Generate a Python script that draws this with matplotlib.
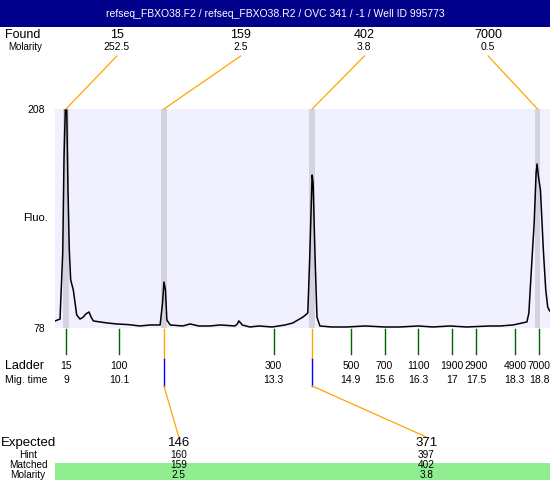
import matplotlib
matplotlib.use("Agg")
import matplotlib.pyplot as plt
from matplotlib.patches import Rectangle

plt.rcParams['font.family'] = ['Liberation Sans', 'DejaVu Sans']

title = "refseq_FBXO38.F2 / refseq_FBXO38.R2 / OVC 341 / -1 / Well ID 995773"

# electropherogram trace (migration time s, fluorescence)
trace_time = [8.772, 8.876, 8.932, 8.959, 8.986, 9.015, 9.041, 9.068, 9.097, 9.151,
              9.222, 9.290, 9.358, 9.41, 9.476, 9.52, 9.566, 9.704, 9.85, 10.05,
              10.3, 10.53, 10.75, 10.95, 11.00, 11.03, 11.06, 11.09, 11.16, 11.42,
              11.57, 11.75, 11.98, 12.2, 12.50, 12.55, 12.58, 12.62, 12.65, 12.81,
              13.0, 13.27, 13.54, 13.70, 13.91, 14.01, 14.05, 14.09, 14.10, 14.12,
              14.16, 14.20, 14.26, 14.5, 14.82, 15.2, 15.6, 15.92, 16.3, 16.6,
              16.96, 17.3, 17.78, 18.0, 18.26, 18.55, 18.59, 18.65, 18.70, 18.74,
              18.76, 18.79, 18.83, 18.89, 18.94, 18.98, 19.01, 19.028]
trace_fluo = [82.2, 83.3, 122.5, 179.5, 208.0, 207.4, 159.9, 124.3, 106.5, 100.6,
              85.7, 83.3, 84.5, 86.3, 87.5, 84.5, 82.2, 81.6, 81.0, 80.4,
              80.0, 79.2, 79.8, 79.8, 92.8, 105.3, 100.6, 82.7, 79.8, 79.2,
              80.4, 79.2, 79.2, 79.8, 79.2, 80.4, 82.2, 81.0, 79.8, 78.6,
              79.2, 78.6, 79.8, 81.0, 84.5, 86.9, 120.1, 159.9, 168.8, 164.1,
              120.1, 84.5, 79.2, 78.6, 78.6, 79.2, 78.6, 78.6, 79.2, 78.6,
              79.2, 78.6, 79.2, 79.2, 79.8, 81.6, 86.9, 116.6, 140.3, 170.0,
              175.4, 167.6, 159.9, 124.3, 100.6, 90.5, 88.7, 88.0]

found_sizes = ["15", "159", "402", "7000"]
found_molarity = ["252.5", "2.5", "3.8", "0.5"]
found_times = [9.0, 11.03, 14.1, 18.77]

ladder_sizes = ["15", "100", "300", "500", "700", "1100", "1900", "2900", "4900", "7000"]
ladder_times = [9, 10.1, 13.3, 14.9, 15.6, 16.3, 17, 17.5, 18.3, 18.8]
ladder_labels = ["9", "10.1", "13.3", "14.9", "15.6", "16.3", "17", "17.5", "18.3", "18.8"]

expected = ["146", "371"]
hint = ["160", "397"]
matched = ["159", "402"]
matched_molarity = ["2.5", "3.8"]
matched_times = [11.03, 14.1]

W, H = 550, 480
fig = plt.figure(figsize=(5.5, 4.8), dpi=100)

# main trace panel (pixel box 55..550 x 109..328)
ax = fig.add_axes([55 / W, (H - 328) / H, 495 / W, 219 / H])
ax.set_facecolor('#F0F0FF')
ax.set_xlim(8.772, 19.028)
ax.set_ylim(78, 208)
for s in ax.spines.values():
    s.set_visible(False)
ax.set_xticks([])
ax.set_yticks([78, 208])
ax.set_yticklabels(["78", "208"], fontsize=7.5)
ax.tick_params(axis='y', length=0, pad=7)
for t in found_times:
    ax.axvspan(t - 0.055, t + 0.055, color='#D3D3E0', lw=0)
ax.plot(trace_time, trace_fluo, color='black', lw=1.1)

# overlay in pixel coords for the annotation rows
ov = fig.add_axes([0, 0, 1, 1], zorder=5)
ov.set_xlim(0, W)
ov.set_ylim(H, 0)
ov.axis('off')
ov.patch.set_alpha(0)

def tpx(t):
    d = ax.transData.transform((t, 78))
    return ov.transData.inverted().transform(d)[0]

ov.add_patch(Rectangle((0, 0), W, 27, color='#00008B', lw=0))
ov.text(W / 2, 14, title, color='white', fontsize=7.5, ha='center', va='center')

ov.text(5, 35, "Found", fontsize=9, ha='left', va='center')
ov.text(8, 47, "Molarity", fontsize=7, ha='left', va='center')
col = 495 / len(found_sizes)
for i, (sz, mol, t) in enumerate(zip(found_sizes, found_molarity, found_times)):
    cx = 55 + col * (i + 0.5)
    ov.text(cx, 35, sz, fontsize=9, ha='center', va='center')
    ov.text(cx, 47, mol, fontsize=7.5, ha='center', va='center')
    ov.plot([cx, tpx(t)], [56, 109], color='#FFA500', lw=0.9)

ov.text(35, 218, "Fluo.", fontsize=8, ha='center', va='center')

ov.text(5, 366, "Ladder", fontsize=9, ha='left', va='center')
ov.text(5, 380, "Mig. time", fontsize=7.5, ha='left', va='center')
for sz, t, lab in zip(ladder_sizes, ladder_times, ladder_labels):
    x = tpx(t)
    ov.plot([x, x], [329, 354], color='#006400', lw=1)
    ov.text(x, 366, sz, fontsize=7.5, ha='center', va='center')
    ov.text(x, 380, lab, fontsize=7.5, ha='center', va='center')

# expected / matched table
ov.add_patch(Rectangle((55, 463), 495, 17, color='#90EE90', lw=0))
ov.text(28, 443, "Expected", fontsize=9.5, ha='center', va='center')
ov.text(28, 455, "Hint", fontsize=7.2, ha='center', va='center')
ov.text(28, 465.5, "Matched", fontsize=7.2, ha='center', va='center')
ov.text(28, 474.5, "Molarity", fontsize=7.2, ha='center', va='center')
col2 = 495 / len(expected)
for i in range(len(expected)):
    cx = 55 + col2 * (i + 0.5)
    x = tpx(matched_times[i])
    ov.plot([x, x], [329, 359], color='#FFA500', lw=1)
    ov.plot([x, x], [359, 386], color='#0000FF', lw=1)
    ov.plot([x, cx], [386, 437], color='#FFA500', lw=0.9)
    ov.text(cx, 443, expected[i], fontsize=9.5, ha='center', va='center')
    ov.text(cx, 455, hint[i], fontsize=7.2, ha='center', va='center')
    ov.text(cx, 465.5, matched[i], fontsize=7.2, ha='center', va='center')
    ov.text(cx, 474.5, matched_molarity[i], fontsize=7.2, ha='center', va='center')

fig.savefig("out.png", dpi=100)
